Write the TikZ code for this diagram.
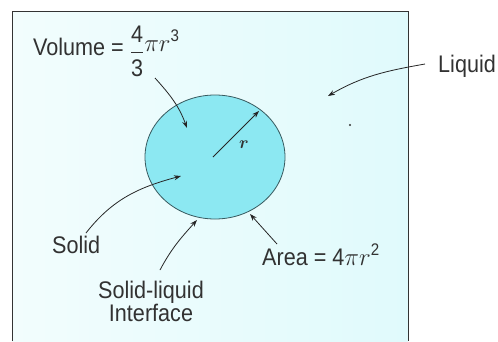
\documentclass[tikz,border=0pt]{standalone}
\usepackage{amsmath}
\usepackage{fontspec}
\setmainfont{Liberation Sans}[FakeStretch=0.9]
\usetikzlibrary{arrows.meta,shapes.geometric}
\definecolor{liq}{RGB}{224,250,252}
\definecolor{liqw}{RGB}{242,253,253}
\definecolor{sol}{RGB}{140,232,242}
\definecolor{txt}{RGB}{50,50,50}
\definecolor{edge}{RGB}{55,90,95}
\begin{document}
\begin{tikzpicture}[x=1pt,y=-1pt,
  lbl/.style={inner sep=0pt, text=txt, font=\fontsize{24}{22}\selectfont},
  ptr/.style={draw=black!85, line width=0.8pt, -{Stealth[length=7pt,width=5pt]}}]
\useasboundingbox (0,0) rectangle (498,341);
% liquid region
\shade[left color=liqw, right color=liq] (12,11) rectangle (408,341);
\draw[line width=1pt, black!80] (12,341) -- (12,11) -- (408,11) -- (408,341);
% solid sphere
\node (sphere) [ellipse, draw=edge, line width=0.8pt, fill=sol,
  minimum width=140pt, minimum height=124pt, inner sep=0pt] at (215,157) {};
% labels
\node[lbl, anchor=base west] (vol) at (33,55)
  {Volume = \raisebox{-4pt}{\(\dfrac{\text{4}}{\text{3}}\)}\raisebox{4pt}{\(\pi r^{\text{3}}\)}};
\node[lbl, anchor=base west] (liquid) at (438,72) {Liquid};
\node[lbl, anchor=base west] (solid) at (52,253) {Solid};
\node[lbl, anchor=north, align=center] (iface) at (151,281) {Solid-liquid\\Interface};
\node[lbl, anchor=base west] (area) at (262,265) {Area = 4\(\pi r^{\text{2}}\)};
\node[inner sep=0pt, text=txt, font=\fontsize{18}{18}\selectfont] (rlab) at (244,145) {\(\boldsymbol{r}\)};
% arrow end points
\coordinate (c) at (213,157);
\coordinate (redge) at (259,111);
\coordinate (vs) at (155,78);
\coordinate (ve) at (187,128);
\coordinate (ls) at (425,64);
\coordinate (le) at (328,96);
\coordinate (ss) at (86,233);
\coordinate (se) at (181,176);
\coordinate (is) at (160,270);
\coordinate (ie) at (197,220);
\coordinate (as) at (277,244);
\coordinate (ae) at (250,214);
\coordinate (dot) at (350,125);
% connectors
\draw[ptr] (c) -- (redge);
\draw[ptr] (vs) to[out=-48,in=110] (ve);
\draw[ptr] (ls) to[out=190,in=30] (le);
\draw[ptr] (ss) to[out=52,in=195] (se);
\draw[ptr] (is) to[out=62,in=228] (ie);
\draw[ptr] (as) -- (ae);
\fill[black!80] (dot) circle (1.2pt);
\end{tikzpicture}
\end{document}
